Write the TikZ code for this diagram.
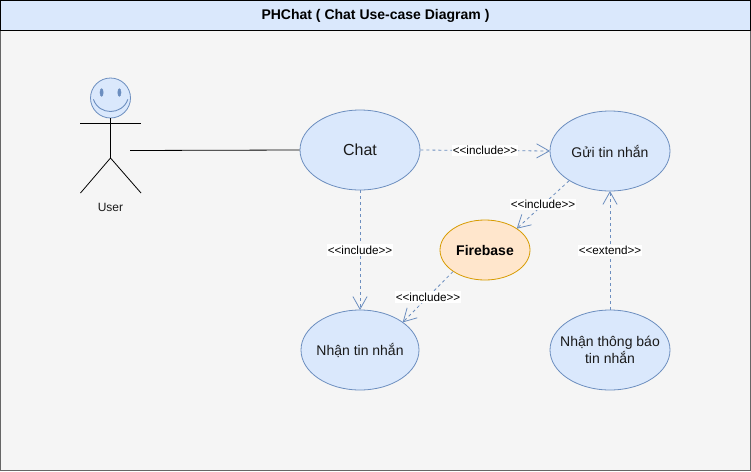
\documentclass[tikz,border=0pt]{standalone}
\usepackage{fontspec}
\setmainfont{Liberation Sans}
\usetikzlibrary{shapes.geometric,arrows.meta}
\definecolor{ubfill}{HTML}{DAE8FC}
\definecolor{ubline}{HTML}{6C8EBF}
\definecolor{orfill}{HTML}{FFE6CC}
\definecolor{orline}{HTML}{D79B00}
\definecolor{bgfill}{HTML}{F5F5F5}
\definecolor{ink}{HTML}{1A1A1A}
\tikzset{
  usecase/.style={ellipse,draw=ubline,fill=ubfill,line width=.8pt,minimum width=120pt,minimum height=80pt,inner sep=-30pt,align=center,text=ink,font=\fontsize{14}{17}\selectfont},
  fbcase/.style={ellipse,draw=orline,fill=orfill,line width=.8pt,minimum width=90pt,minimum height=60pt,inner sep=-10pt,font=\fontsize{14}{18}\selectfont\bfseries,text=black},
  deplink/.style={draw=ubline,line width=.8pt,dash pattern=on 3pt off 3pt,-{Straight Barb[length=12.5pt,width=14pt,line width=.8pt,round=false]}},
  deplabel/.style={fill=white,inner xsep=1pt,inner ysep=1.5pt,font=\fontsize{11.7}{14}\selectfont,text=black},
  limb/.style={draw=black,line width=.8pt},
}
\begin{document}
\begin{tikzpicture}[x=1pt,y=-1pt]
\useasboundingbox (0,0) rectangle (751,471);
\path[fill=bgfill] (0.5,30) rectangle (750.5,470.5);
\draw[draw=black!60,line width=1pt] (0.5,30) -- (0.5,470.5) -- (750.5,470.5) -- (750.5,30);
\node[draw=black,fill=ubfill,line width=1pt,minimum width=750pt,minimum height=30pt,inner sep=0pt,font=\fontsize{14}{16}\selectfont\bfseries,text=black] (title) at (375.5,15.5) {PHChat ( Chat Use-case Diagram )};

% actor
\node[circle,draw=ubline,fill=ubfill,line width=.8pt,minimum size=40pt,inner sep=0pt] (head) at (110.5,98) {};
\coordinate (hip) at (110.5,158);
\coordinate (armL) at (80,123);
\coordinate (armR) at (141,123);
\coordinate (footL) at (80.5,193);
\coordinate (footR) at (141,193);
\draw[limb] (head.south) -- (hip);
\draw[limb] (armL) -- (armR);
\draw[limb] (footL) -- (hip) -- (footR);
\filldraw[draw=ubline,fill=ubline,line width=.5pt] (101.6,92.5) ellipse [x radius=1.6,y radius=3.8];
\filldraw[draw=ubline,fill=ubline,line width=.5pt] (119.4,92.5) ellipse [x radius=1.6,y radius=3.8];
\draw[draw=ubline,line width=.9pt,line cap=round] (93.5,99.5) .. controls (99,115.5) and (122,115.5) .. (127.8,99.5);
\node[font=\fontsize{12}{14}\selectfont,text=ink,inner sep=0pt] (userlabel) at (110.5,207) {User};

% use cases
\node[usecase,font=\fontsize{16}{18}\selectfont] (chat) at (360,150) {Chat};
\node[usecase] (send) at (610,151) {Gửi tin nhắn};
\node[fbcase] (fire) at (485,250) {Firebase};
\node[usecase,minimum width=118pt] (recv) at (360,350) {Nhận tin nhắn};
\node[usecase] (notif) at (610,350) {Nhận thông báo\\tin nhắn};

% connectors
\coordinate (actorhand) at (130,150.5);
\draw[draw=black,line width=.8pt] (actorhand) -- (chat.west);
\draw[deplink] (chat.east) -- node[deplabel,pos=.5] {<{}<include>{}>} (send.west);
\draw[deplink] (send.216) -- node[deplabel,pos=.5] {<{}<include>{}>} (fire.34);
\draw[deplink] (chat.south) -- node[deplabel,pos=.5] {<{}<include>{}>} (recv.north);
\draw[deplink] (fire.214) -- node[deplabel,pos=.5] {<{}<include>{}>} (recv.33);
\draw[deplink] (notif.north) -- node[deplabel,pos=.5] {<{}<extend>{}>} (send.south);
\end{tikzpicture}
\end{document}
